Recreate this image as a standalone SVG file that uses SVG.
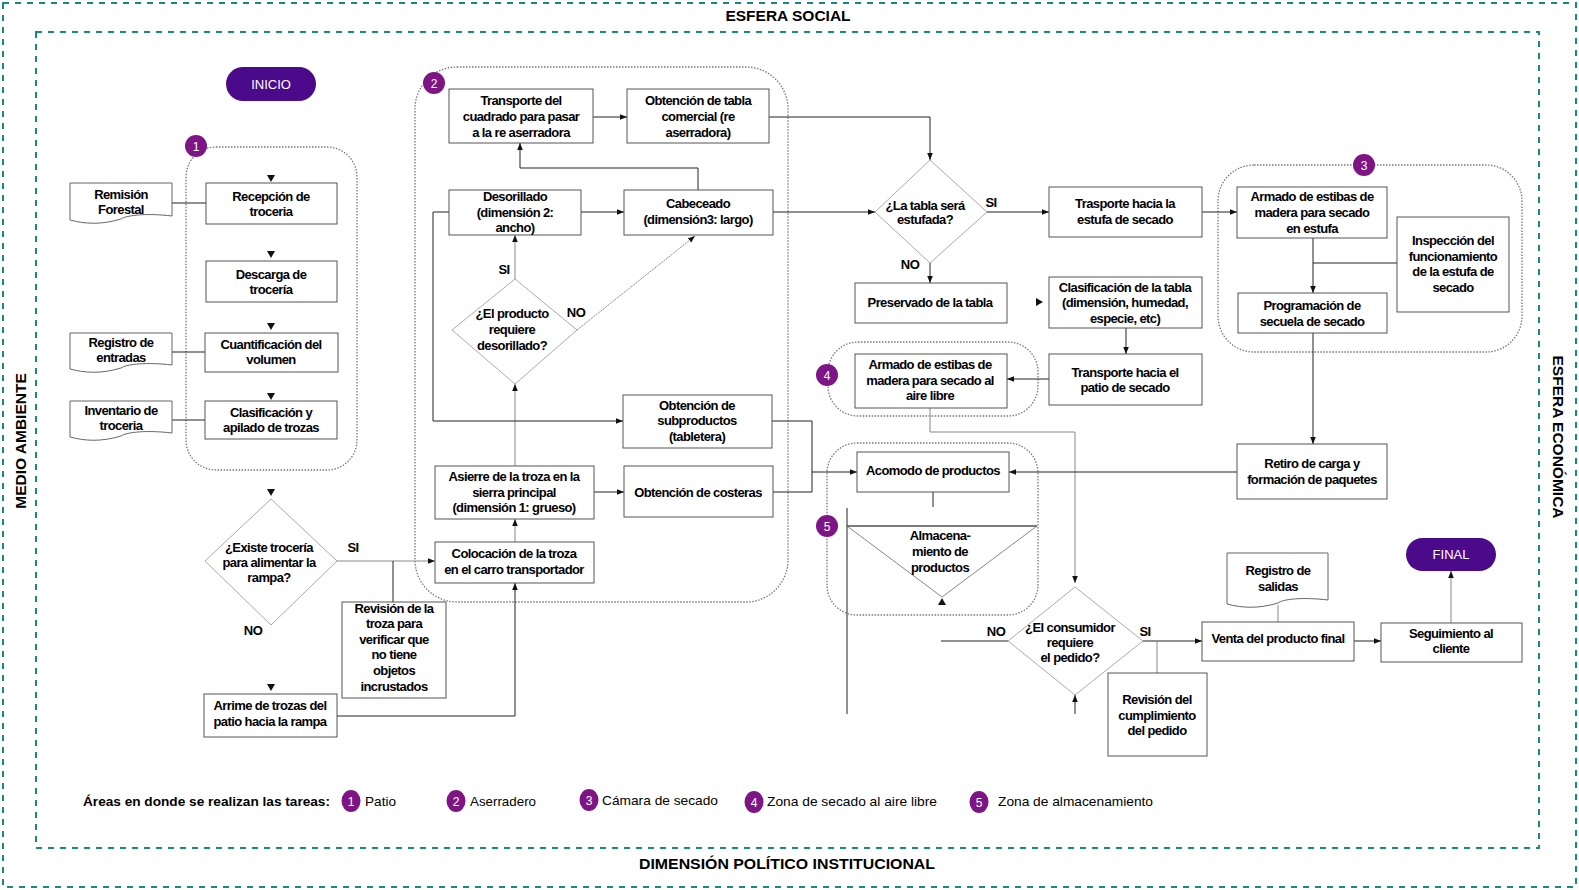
<svg xmlns="http://www.w3.org/2000/svg" width="1579" height="890" viewBox="0 0 1579 890">
<style>
.t{font-family:"Liberation Sans",Arial,sans-serif;font-size:13px;font-weight:bold;letter-spacing:-0.6px;text-anchor:middle;fill:#000}
.lg{font-family:"Liberation Sans",Arial,sans-serif;font-size:13px;fill:#000}
.ttl{font-family:"Liberation Sans",Arial,sans-serif;font-size:15.5px;font-weight:bold;text-anchor:middle;fill:#000}
.box{fill:#fff;stroke:#555;stroke-width:1}
.dia{fill:#fff;stroke:#aaa;stroke-width:1}
.doc{fill:#fff;stroke:#666;stroke-width:1}
.zone{fill:none;stroke:#777;stroke-width:1.3;stroke-dasharray:1.5 1.5}
.frame{fill:none;stroke:#168a84;stroke-width:2;stroke-dasharray:6 6}
.pill{fill:#4b0a8a}
.pt{font-family:"Liberation Sans",Arial,sans-serif;font-size:13px;text-anchor:middle;fill:#fff}
.bd{fill:#7d1585}
.bt{font-family:"Liberation Sans",Arial,sans-serif;font-size:12px;text-anchor:middle;fill:#fff}
.c{fill:none;stroke:#222;stroke-width:1}
.cg{fill:none;stroke:#888;stroke-width:1}
.ca{fill:none;stroke:#222;stroke-width:1;marker-end:url(#ah)}
.cga{fill:none;stroke:#888;stroke-width:1;marker-end:url(#ah)}
.tip{fill:#111}
</style>
<defs>
<marker id="ah" viewBox="0 0 10 10" refX="10" refY="5" markerWidth="7" markerHeight="7" markerUnits="userSpaceOnUse" orient="auto"><path d="M0,1 L10,5 L0,9 z" fill="#111"/></marker>
</defs>
<rect width="1579" height="890" fill="#fff"/>

<g id="frames">
<rect class="frame" x="3" y="3" width="1573" height="884"/>
<rect class="frame" x="36" y="32" width="1503" height="816"/>
<text class="ttl" x="788" y="21">ESFERA SOCIAL</text>
<text class="ttl" x="787" y="869" textLength="296" lengthAdjust="spacingAndGlyphs">DIMENSIÓN POLÍTICO INSTITUCIONAL</text>
<text class="ttl" transform="translate(26,441) rotate(-90)">MEDIO AMBIENTE</text>
<text class="ttl" transform="translate(1553,437) rotate(90)">ESFERA ECONÓMICA</text>
</g>

<g id="zones">
<rect class="zone" x="186" y="147" width="171" height="323" rx="30"/>
<rect class="zone" x="415" y="67" width="373" height="535" rx="42"/>
<rect class="zone" x="1218" y="165" width="304" height="187" rx="36"/>
<rect class="zone" x="828" y="342" width="210" height="74" rx="30"/>
<rect class="zone" x="827" y="443" width="211" height="172" rx="30"/>
<g id="badge1"><circle class="bd" cx="196" cy="146" r="11"/><text class="bt" x="196" y="150.5">1</text></g>
<g id="badge2"><circle class="bd" cx="434" cy="83" r="11"/><text class="bt" x="434" y="87.5">2</text></g>
<g id="badge3"><circle class="bd" cx="1364" cy="165" r="11"/><text class="bt" x="1364" y="169.5">3</text></g>
<g id="badge4"><circle class="bd" cx="827" cy="375" r="11"/><text class="bt" x="827" y="379.5">4</text></g>
<g id="badge5"><circle class="bd" cx="827" cy="526" r="11"/><text class="bt" x="827" y="530.5">5</text></g>
</g>

<g id="connectors">
<path class="c" d="M172 203 H206"/>
<path class="c" d="M172 352 H205"/>
<path class="c" d="M172 420 H205"/>
<polygon class="tip" points="267,175 275,175 271,182"/>
<polygon class="tip" points="267,251 275,251 271,258"/>
<polygon class="tip" points="267,323 275,323 271,330"/>
<polygon class="tip" points="267,393 275,393 271,400"/>
<polygon class="tip" points="267,489 275,489 271,496"/>
<polygon class="tip" points="267,684 275,684 271,691"/>
<path class="cga" d="M337 561 H435"/>
<path class="c" d="M393 561 V602"/>
<path class="ca" d="M337 716 H515 V583"/>
<path class="cga" d="M515 542 V519"/>
<path class="cga" d="M515 466 V384"/>
<path class="ca" d="M594 492 H624"/>
<path class="cga" d="M515 279 V235"/>
<path class="cga" d="M577 330 L695 236" stroke-dasharray="2 1"/>
<path class="ca" d="M581 212 H624"/>
<path class="ca" d="M449 212 H433 V421 H623"/>
<path class="ca" d="M698 190 V168 H520 V143"/>
<path class="ca" d="M593 117 H627"/>
<path class="ca" d="M769 117 H930 V160"/>
<path class="ca" d="M773 212 H875"/>
<path class="ca" d="M987 212 H1049"/>
<path class="ca" d="M930 263 V283"/>
<polygon class="tip" points="1036,298 1036,306 1043,302"/>
<path class="ca" d="M1126 328 V354"/>
<path class="ca" d="M1049 379 H1007"/>
<path class="cga" d="M930 408 V432 H1075 V583"/>
<path class="ca" d="M1202 212 H1237"/>
<path class="ca" d="M1313 238 V293"/>
<path class="c" d="M1397 263 H1313"/>
<path class="ca" d="M1313 333 V444"/>
<path class="ca" d="M1237 472 H1009"/>
<path class="c" d="M772 421 H812 V492 H773"/>
<path class="ca" d="M812 472 H857"/>
<path class="c" d="M933 492 V507"/>
<path class="c" d="M847 508 V714"/>
<polygon class="tip" points="938,605 946,605 942,598"/>
<path class="c" d="M941 641 H1008"/>
<path class="ca" d="M1143 641 H1202"/>
<path class="cg" d="M1157 641 V673"/>
<path class="ca" d="M1075 714 V695"/>
<path class="cg" d="M1278 605 V622"/>
<path class="ca" d="M1354 641 H1381"/>
<path class="cga" d="M1451 623 V571"/>
</g>

<g id="labels">
<text class="t" x="353" y="552">SI</text>
<text class="t" x="253" y="635">NO</text>
<text class="t" x="504" y="274">SI</text>
<text class="t" x="576" y="317">NO</text>
<text class="t" x="991" y="207">SI</text>
<text class="t" x="910" y="269">NO</text>
<text class="t" x="996" y="636">NO</text>
<text class="t" x="1145" y="636">SI</text>
</g>

<g id="inicio"><rect class="pill" x="226" y="67" width="90" height="34" rx="17"/><text class="pt" x="271" y="88.5">INICIO</text></g>
<g id="final"><rect class="pill" x="1406" y="538" width="90" height="33" rx="16.5"/><text class="pt" x="1451" y="559">FINAL</text></g>

<g id="remision"><path class="doc" d="M70 183 H172 V216 C147 213 127 215 121 219 C101 225 85 224 70 220 Z"/><text class="t" y="199"><tspan x="121">Remisión</tspan><tspan x="121" dy="15">Forestal</tspan></text></g>
<g id="registro-entradas"><path class="doc" d="M70 333 H172 V365 C147 362 127 364 121 368 C101 374 85 373 70 369 Z"/><text class="t" y="347"><tspan x="121">Registro de</tspan><tspan x="121" dy="15">entradas</tspan></text></g>
<g id="inventario"><path class="doc" d="M70 401 H172 V433 C147 430 127 432 121 436 C101 442 85 441 70 437 Z"/><text class="t" y="415"><tspan x="121">Inventario de</tspan><tspan x="121" dy="15">troceria</tspan></text></g>

<g id="recepcion"><rect class="box" x="206" y="183" width="131" height="41"/><text class="t" y="200.5"><tspan x="271">Recepción de</tspan><tspan x="271" dy="15">troceria</tspan></text></g>
<g id="descarga"><rect class="box" x="206" y="261" width="131" height="41"/><text class="t" y="278.5"><tspan x="271">Descarga de</tspan><tspan x="271" dy="15">trocería</tspan></text></g>
<g id="cuantificacion"><rect class="box" x="205" y="333" width="133" height="39"/><text class="t" y="349"><tspan x="271">Cuantificación del</tspan><tspan x="271" dy="15">volumen</tspan></text></g>
<g id="clasificacion"><rect class="box" x="205" y="401" width="132" height="38"/><text class="t" y="417"><tspan x="271">Clasificación y</tspan><tspan x="271" dy="15">apilado de trozas</tspan></text></g>

<g id="existe"><polygon class="dia" points="271,499 337,561 271,625 205,561"/><text class="t" y="551.5"><tspan x="269">¿Existe trocería</tspan><tspan x="269" dy="15">para alimentar la</tspan><tspan x="269" dy="15">rampa?</tspan></text></g>
<g id="revision-troza"><rect class="box" x="342" y="602" width="104" height="96"/><text class="t" y="612.5"><tspan x="394">Revisión de la</tspan><tspan x="394" dy="15.6">troza para</tspan><tspan x="394" dy="15.6">verificar que</tspan><tspan x="394" dy="15.6">no tiene</tspan><tspan x="394" dy="15.6">objetos</tspan><tspan x="394" dy="15.6">incrustados</tspan></text></g>
<g id="arrime"><rect class="box" x="204" y="694" width="133" height="43"/><text class="t" y="710"><tspan x="270">Arrime de trozas del</tspan><tspan x="270" dy="16">patio hacia la rampa</tspan></text></g>

<g id="transporte-cuadrado"><rect class="box" x="449" y="89" width="144" height="54"/><text class="t" y="104.5"><tspan x="521">Transporte del</tspan><tspan x="521" dy="16">cuadrado para pasar</tspan><tspan x="521" dy="16">a la re aserradora</tspan></text></g>
<g id="obtencion-tabla"><rect class="box" x="627" y="89" width="142" height="54"/><text class="t" y="104.5"><tspan x="698">Obtención de tabla</tspan><tspan x="698" dy="16">comercial (re</tspan><tspan x="698" dy="16">aserradora)</tspan></text></g>
<g id="desorillado"><rect class="box" x="449" y="190" width="132" height="45"/><text class="t" y="200.5"><tspan x="515">Desorillado</tspan><tspan x="515" dy="16">(dimensión 2:</tspan><tspan x="515" dy="15">ancho)</tspan></text></g>
<g id="cabeceado"><rect class="box" x="624" y="190" width="149" height="45"/><text class="t" y="208"><tspan x="698">Cabeceado</tspan><tspan x="698" dy="16">(dimensión3: largo)</tspan></text></g>
<g id="requiere-desorillado"><polygon class="dia" points="515,279 577,330 515,384 452,330"/><text class="t" y="318"><tspan x="512">¿El producto</tspan><tspan x="512" dy="16">requiere</tspan><tspan x="512" dy="16">desorillado?</tspan></text></g>
<g id="subproductos"><rect class="box" x="623" y="395" width="149" height="53"/><text class="t" y="409.5"><tspan x="697">Obtención de</tspan><tspan x="697" dy="15.5">subproductos</tspan><tspan x="697" dy="15.5">(tabletera)</tspan></text></g>
<g id="asierre"><rect class="box" x="435" y="466" width="159" height="53"/><text class="t" y="480.5"><tspan x="514">Asierre de la troza en la</tspan><tspan x="514" dy="16">sierra principal</tspan><tspan x="514" dy="15">(dimensión 1: grueso)</tspan></text></g>
<g id="costeras"><rect class="box" x="624" y="466" width="149" height="51"/><text class="t" x="698" y="496.5">Obtención de costeras</text></g>
<g id="colocacion"><rect class="box" x="435" y="542" width="159" height="41"/><text class="t" y="558"><tspan x="514">Colocación de la troza</tspan><tspan x="514" dy="16">en el carro transportador</tspan></text></g>

<g id="estufada"><polygon class="dia" points="930,160 987,212 930,263 875,212"/><text class="t" y="209.5"><tspan x="925">¿La tabla será</tspan><tspan x="925" dy="14.5">estufada?</tspan></text></g>
<g id="trasporte-estufa"><rect class="box" x="1049" y="187" width="153" height="50"/><text class="t" y="207.5"><tspan x="1125">Trasporte hacia la</tspan><tspan x="1125" dy="16">estufa de secado</tspan></text></g>
<g id="preservado"><rect class="box" x="855" y="283" width="152" height="40"/><text class="t" x="930" y="306.5">Preservado de la tabla</text></g>
<g id="clasificacion-tabla"><rect class="box" x="1049" y="277" width="153" height="51"/><text class="t" y="291.5"><tspan x="1125">Clasificación de la tabla</tspan><tspan x="1125" dy="15.5">(dimensión, humedad,</tspan><tspan x="1125" dy="15.5">especie, etc)</tspan></text></g>
<g id="transporte-patio"><rect class="box" x="1049" y="354" width="153" height="51"/><text class="t" y="376.5"><tspan x="1125">Transporte hacia el</tspan><tspan x="1125" dy="15.5">patio de secado</tspan></text></g>
<g id="armado-aire"><rect class="box" x="855" y="354" width="152" height="54"/><text class="t" y="368.5"><tspan x="930">Armado de estibas de</tspan><tspan x="930" dy="16">madera para secado al</tspan><tspan x="930" dy="15">aire libre</tspan></text></g>

<g id="armado-estufa"><rect class="box" x="1237" y="187" width="150" height="51"/><text class="t" y="200.5"><tspan x="1312">Armado de estibas de</tspan><tspan x="1312" dy="16">madera para secado</tspan><tspan x="1312" dy="16">en estufa</tspan></text></g>
<g id="inspeccion"><rect class="box" x="1397" y="217" width="112" height="95"/><text class="t" y="244.5"><tspan x="1453">Inspección del</tspan><tspan x="1453" dy="16">funcionamiento</tspan><tspan x="1453" dy="15.5">de la estufa de</tspan><tspan x="1453" dy="15.5">secado</tspan></text></g>
<g id="programacion"><rect class="box" x="1238" y="293" width="149" height="40"/><text class="t" y="310"><tspan x="1312">Programación de</tspan><tspan x="1312" dy="15.5">secuela de secado</tspan></text></g>
<g id="retiro"><rect class="box" x="1237" y="444" width="150" height="55"/><text class="t" y="467.5"><tspan x="1312">Retiro de carga y</tspan><tspan x="1312" dy="16">formación de paquetes</tspan></text></g>

<g id="acomodo"><rect class="box" x="857" y="452" width="152" height="40"/><text class="t" x="933" y="474.5">Acomodo de productos</text></g>
<g id="almacenamiento"><polygon points="847,526 1037,526 942,597" fill="#fff" stroke="#888" stroke-width="1"/><path d="M847 526 H1037" stroke="#333" stroke-width="1"/><text class="t" y="539.5"><tspan x="940">Almacena-</tspan><tspan x="940" dy="16">miento de</tspan><tspan x="940" dy="16">productos</tspan></text></g>
<g id="consumidor"><polygon class="dia" points="1075,587 1143,641 1075,695 1008,641"/><text class="t" y="631.5"><tspan x="1070">¿El consumidor</tspan><tspan x="1070" dy="15">requiere</tspan><tspan x="1070" dy="15">el pedido?</tspan></text></g>
<g id="revision-pedido"><rect class="box" x="1108" y="673" width="99" height="83"/><text class="t" y="703.5"><tspan x="1157">Revisión del</tspan><tspan x="1157" dy="16">cumplimiento</tspan><tspan x="1157" dy="15.5">del pedido</tspan></text></g>
<g id="registro-salidas"><path class="doc" d="M1227 553 H1328 V600 C1303 597 1283 599 1278 603 C1258 609 1242 608 1227 604 Z"/><text class="t" y="575"><tspan x="1278">Registro de</tspan><tspan x="1278" dy="15.5">salidas</tspan></text></g>
<g id="venta"><rect class="box" x="1202" y="622" width="152" height="39"/><text class="t" x="1278" y="642.5">Venta del producto final</text></g>
<g id="seguimiento"><rect class="box" x="1381" y="623" width="141" height="39"/><text class="t" y="637.5"><tspan x="1451">Seguimiento al</tspan><tspan x="1451" dy="15.5">cliente</tspan></text></g>

<g id="legend">
<text class="lg" x="83" y="806" font-weight="bold" textLength="247" lengthAdjust="spacingAndGlyphs">Áreas en donde se realizan las tareas:</text>
<ellipse class="bd" cx="351" cy="801" rx="9.5" ry="11"/><text class="bt" x="351" y="805.5">1</text>
<text class="lg" x="365" y="806" textLength="31" lengthAdjust="spacingAndGlyphs">Patio</text>
<ellipse class="bd" cx="456" cy="801" rx="9.5" ry="11"/><text class="bt" x="456" y="805.5">2</text>
<text class="lg" x="470" y="806" textLength="66" lengthAdjust="spacingAndGlyphs">Aserradero</text>
<ellipse class="bd" cx="589" cy="800" rx="9.5" ry="11"/><text class="bt" x="589" y="804.5">3</text>
<text class="lg" x="602" y="805" textLength="116" lengthAdjust="spacingAndGlyphs">Cámara de secado</text>
<ellipse class="bd" cx="754" cy="802" rx="9.5" ry="11"/><text class="bt" x="754" y="806.5">4</text>
<text class="lg" x="767" y="806" textLength="170" lengthAdjust="spacingAndGlyphs">Zona de secado al aire libre</text>
<ellipse class="bd" cx="979" cy="802" rx="9.5" ry="11"/><text class="bt" x="979" y="806.5">5</text>
<text class="lg" x="998" y="806" textLength="155" lengthAdjust="spacingAndGlyphs">Zona de almacenamiento</text>
</g>
</svg>
